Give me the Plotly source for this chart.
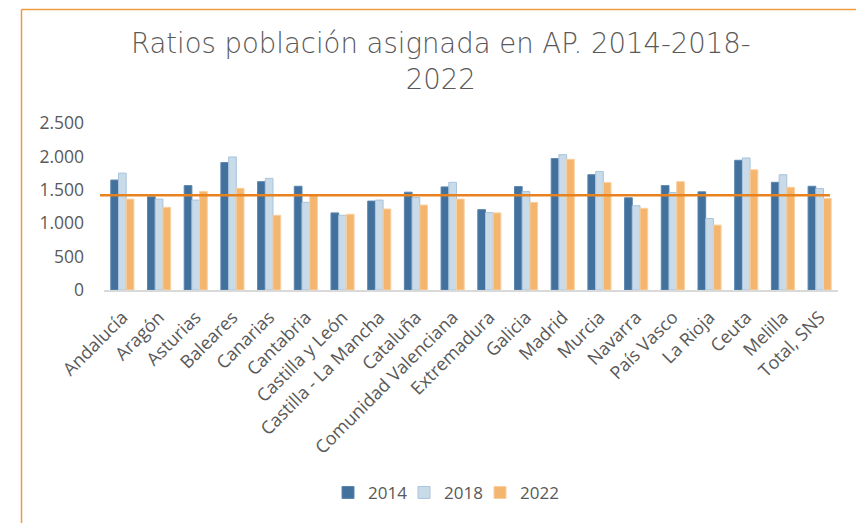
import plotly.graph_objects as go

categories = ["Andalucía", "Aragón", "Asturias", "Baleares", "Canarias", "Cantabria",
              "Castilla y León", "Castilla - La Mancha", "Cataluña", "Comunidad Valenciana",
              "Extremadura", "Galicia", "Madrid", "Murcia", "Navarra", "País Vasco",
              "La Rioja", "Ceuta", "Melilla", "Total, SNS"]

values_2014 = [1646, 1395, 1563, 1908, 1622, 1553, 1154, 1331, 1464, 1543,
               1203, 1548, 1967, 1726, 1380, 1563, 1469, 1942, 1612, 1553]
values_2018 = [1750, 1361, 1346, 1992, 1671, 1312, 1119, 1346, 1386, 1612,
               1159, 1474, 2026, 1775, 1262, 1460, 1070, 1977, 1726, 1519]
values_2022 = [1361, 1238, 1474, 1523, 1119, 1420, 1134, 1213, 1272, 1361,
               1154, 1312, 1957, 1608, 1223, 1622, 972, 1800, 1538, 1371]
reference_value = 1420

y_ticks = [0, 500, 1000, 1500, 2000, 2500]
y_tick_labels = ["0", "500", "1.000", "1.500", "2.000", "2.500"]

series = [
    ("2014", values_2014, "#41719C", "#5B86AE"),
    ("2018", values_2018, "#C9DAE8", "#A9C4DC"),
    ("2022", values_2022, "#F4B66E", "#F8D0A2"),
]

PLOT_L, PLOT_W = 104, 734
legend_names = ["legend", "legend2", "legend3"]
legend_px = [328, 404, 480]

fig = go.Figure()
for (name, vals, fill, edge), lg in zip(series, legend_names):
    fig.add_trace(go.Bar(x=categories, y=vals, name=name, legend=lg,
                         marker=dict(color=fill, line=dict(color=edge, width=1))))

text_font = "Open Sans, Liberation Sans, sans-serif"
legend_layout = {}
for lg, px in zip(legend_names, legend_px):
    legend_layout[lg] = dict(orientation="h", x=(px - PLOT_L) / PLOT_W, xanchor="left",
                             y=-1.215, yanchor="middle", itemwidth=30,
                             bgcolor="rgba(0,0,0,0)",
                             font=dict(size=17, color="#595959"))

fig.update_layout(
    width=856, height=523,
    paper_bgcolor="white", plot_bgcolor="white",
    margin=dict(l=104, r=18, t=123, b=231),
    barmode="group", bargap=0.37, bargroupgap=0,
    title=dict(text="Ratios población asignada en AP. 2014-2018-<br>2022",
               x=0.515, xanchor="center", xref="container",
               y=0.898, yanchor="middle", yref="container",
               font=dict(family="DejaVu Sans, Lato, sans-serif", size=27.5, color="#595959", weight=200)),
    font=dict(family=text_font, color="#595959", size=16),
    showlegend=True,
    xaxis=dict(showline=True, linecolor="#D9D9D9", linewidth=1.5, ticks="",
               tickangle=-45, tickfont=dict(size=18, color="#595959"), showgrid=False,
               ticklabelstandoff=8),
    yaxis=dict(range=[0, 2500], tickvals=y_ticks, ticktext=y_tick_labels, showgrid=False,
               zeroline=False, showline=False, ticks="", ticklabelstandoff=19,
               tickfont=dict(size=17.5, color="#595959")),
    **legend_layout,
)

fig.add_shape(type="line", xref="paper", yref="y", x0=-0.0054, x1=0.989,
              y0=reference_value, y1=reference_value,
              line=dict(color="#E8821E", width=2.5))

# chart frame (orange border, cropped)
fig.add_shape(type="line", xref="paper", yref="paper", x0=-0.1124, x1=-0.1124, y0=1.68, y1=-1.5,
              line=dict(color="#EE9A3F", width=1.5))
fig.add_shape(type="line", xref="paper", yref="paper", x0=-0.1124, x1=1.2, y0=1.68, y1=1.68,
              line=dict(color="#EE9A3F", width=1.5))

fig.write_html("out.html", config={"displayModeBar": False},
               post_script="document.body.style.margin='0';")
